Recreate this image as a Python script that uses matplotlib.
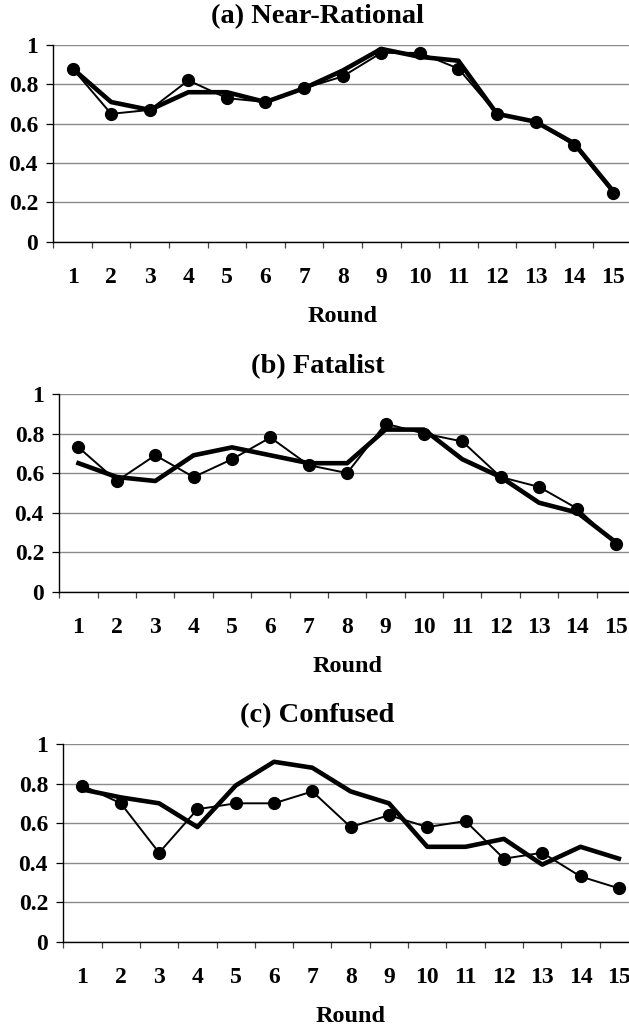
import matplotlib
matplotlib.use("Agg")
import matplotlib.pyplot as plt
import numpy as np

plt.rcParams["font.family"] = ["Liberation Serif", "DejaVu Serif"]
plt.rcParams["font.weight"] = "bold"

rounds = list(range(1, 16))
titles = ["(a) Near-Rational", "(b) Fatalist", "(c) Confused"]

# thin line with circle markers
near_rational_obs = [0.88, 0.65, 0.67, 0.82, 0.73, 0.71, 0.78, 0.84, 0.96, 0.96, 0.88, 0.65, 0.61, 0.49, 0.25]
fatalist_obs = [0.73, 0.56, 0.69, 0.58, 0.67, 0.78, 0.64, 0.60, 0.85, 0.80, 0.76, 0.58, 0.53, 0.42, 0.24]
confused_obs = [0.79, 0.70, 0.45, 0.67, 0.70, 0.70, 0.76, 0.58, 0.64, 0.58, 0.61, 0.42, 0.45, 0.33, 0.27]

# thick line, no markers
near_rational_fit = [0.88, 0.71, 0.67, 0.76, 0.76, 0.71, 0.78, 0.87, 0.98, 0.94, 0.92, 0.65, 0.61, 0.50, 0.26]
fatalist_fit = [0.65, 0.58, 0.56, 0.69, 0.73, 0.69, 0.65, 0.65, 0.82, 0.82, 0.67, 0.58, 0.45, 0.40, 0.25]
confused_fit = [0.77, 0.73, 0.70, 0.58, 0.79, 0.91, 0.88, 0.76, 0.70, 0.48, 0.48, 0.52, 0.39, 0.48, 0.42]

observed = [near_rational_obs, fatalist_obs, confused_obs]
fitted = [near_rational_fit, fatalist_fit, confused_fit]

W, H = 629, 1031
fig = plt.figure(figsize=(W / 100, H / 100), dpi=100)

# (left px, right px, bottom px of y=0, top px of y=1, title baseline px)
boxes = [
    (53.3, 632, 241.7, 45, 23),
    (59.3, 635, 591.7, 394, 373),
    (63.3, 638, 941.7, 744, 722),
]

for i, (l, r, b, t, ty) in enumerate(boxes):
    ax = fig.add_axes([l / W, 1 - b / H, (r - l) / W, (b - t) / H])
    ax.plot(rounds, fitted[i], color="black", lw=3.3, solid_joinstyle="round", zorder=3)
    ax.plot(rounds, observed[i], color="black", lw=1.4, marker="o", markersize=8.5, zorder=4)

    ax.set_xlim(0.5, 15.5)
    ax.set_ylim(0, 1)
    ax.set_yticks(np.arange(0, 1.01, 0.2))
    ax.set_yticklabels(["0", "0.2", "0.4", "0.6", "0.8", "1"])
    ax.yaxis.grid(True, color="#8a8a8a", lw=1.0)
    ax.set_axisbelow(True)

    ax.set_xticks(np.arange(0.5, 15.6, 1))
    ax.set_xticklabels([])
    ax.set_xticks(rounds, minor=True)
    ax.set_xticklabels([str(x) for x in rounds], minor=True)
    ax.tick_params(axis="x", which="major", direction="out", length=4.3, width=0.9, color="#444444")
    ax.tick_params(axis="x", which="minor", length=0, pad=18, labelsize=17)
    ax.tick_params(axis="y", direction="out", length=5, width=0.9, pad=6, labelsize=17)

    for side in ["top", "right"]:
        ax.spines[side].set_visible(False)
    for side in ["left", "bottom"]:
        ax.spines[side].set_linewidth(1.0)
        ax.spines[side].set_color("black")

    ax.set_xlabel("Round", fontsize=17.5, fontweight="bold")
    ax.xaxis.set_label_coords(0.5, -64 / (b - t))

    fig.text(0.505, 1 - ty / H, titles[i], ha="center", va="baseline", fontsize=20.5, fontweight="bold")

fig.savefig("out.png", dpi=100)
